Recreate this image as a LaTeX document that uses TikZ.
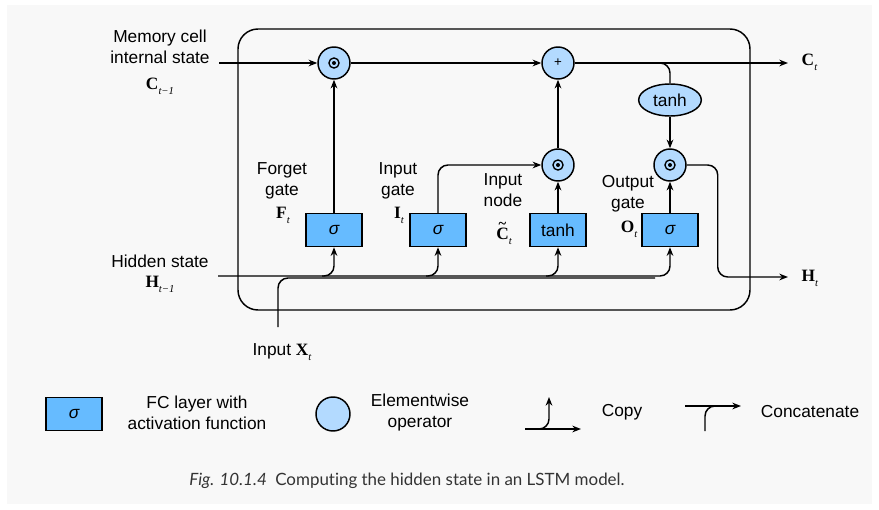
\documentclass[tikz,border=0pt]{standalone}
\usepackage{fontspec}
\setmainfont{Liberation Sans}
\newfontfamily\lsr{Liberation Serif}
\newfontfamily\capfont[Ligatures=NoCommon]{Lato}
\usetikzlibrary{arrows.meta,shapes.geometric,calc}
\definecolor{boxblue}{HTML}{66BBFF}
\definecolor{circblue}{HTML}{B3DAFF}
\definecolor{panel}{HTML}{F8F8F8}
\newcommand\vlab[2]{{\lsr\bfseries #1}\raisebox{-0.55ex}{\lsr\itshape\fontsize{8}{8}\selectfont #2}}
\newcommand\tildeC{\ooalign{C\cr\hidewidth\raisebox{0.62em}{\fontsize{11}{11}\selectfont\textasciitilde}\hidewidth\cr}}
\begin{document}
\begin{tikzpicture}[x=0.75pt,y=-0.75pt,
  line width=1.1pt, >={Stealth[length=6.5pt,width=5pt]},
  fcbox/.style={draw, fill=boxblue, minimum width=42pt, minimum height=24.75pt, inner sep=0pt, font=\fontsize{13}{13}\selectfont},
  opcirc/.style={draw, circle, fill=circblue, minimum size=24pt, inner sep=0pt},
  dotop/.style={opcirc, path picture={\draw[black, line width=1pt] (path picture bounding box.center) circle (3.8pt); \fill[black] (path picture bounding box.center) circle (1.5pt);}},
  lab/.style={font=\fontsize{13}{15.75}\selectfont, align=center, inner sep=0pt},
  vec/.style={font=\fontsize{13}{13}\selectfont, inner sep=0pt},
  conn/.style={rounded corners=7.5pt}
]
\useasboundingbox (0,0) rectangle (879,510);
\fill[white] (0,0) rectangle (879,510);
\fill[panel] (7,5) rectangle (872,504);

% cell frame
\draw[rounded corners=15pt] (238,29) rectangle (750,310);

% operators
\node[dotop] (mf) at (334,63) {};
\node[opcirc, font=\fontsize{10}{10}\selectfont] (add) at (558,63) {+};
\node[dotop] (mi) at (558,165) {};
\node[dotop] (mo) at (670,165) {};
\node[draw, ellipse, fill=circblue, minimum width=47pt, minimum height=24pt, inner sep=0pt, font=\fontsize{13}{13}\selectfont] (th) at (670,100) {tanh};

% FC layers
\node[fcbox] (fg) at (334,230) {\itshape σ};
\node[fcbox] (ig) at (438,230) {\itshape σ};
\node[fcbox] (cn) at (558,230) {tanh};
\node[fcbox] (og) at (670,230) {\itshape σ};

% coordinates
\coordinate (cin) at (219,63);
\coordinate (cout) at (788,63);
\coordinate (hin) at (218,276);
\coordinate (xin) at (278,327);
\coordinate (xend) at (655,278);
\coordinate (hout) at (788,277);
\coordinate (bf) at (322,276);
\coordinate (bi) at (426,276);
\coordinate (bc) at (546,276);

% connectors
\draw[->] (cin) -- (mf);
\draw[->] (mf) -- (add);
\draw[->] (add) -- (cout);
\draw[conn] (add.east) -| (th.north);
\draw[->] (th) -- (mo);
\draw[->] (fg) -- (mf);
\draw[->, conn] (ig.north) |- (mi.west);
\draw[->] (cn) -- (mi);
\draw[->] (mi) -- (add);
\draw[->] (og) -- (mo);
\draw[->, conn] (mo.east) -- ++(31,0) |- (hout);
\draw[->, conn] (hin) -| (og.south);
\draw[conn] (xin) |- (xend);
\draw[->, conn] (bf) -| (fg.south);
\draw[->, conn] (bi) -| (ig.south);
\draw[->, conn] (bc) -| (cn.south);

% labels
\node[lab] (lmem) at (160,47) {Memory cell\\internal state};
\node[vec] (lc0) at (160,86) {\vlab{C}{t−1}};
\node[lab] (lhid) at (160,261) {Hidden state};
\node[vec] (lh0) at (160,284) {\vlab{H}{t−1}};
\node[lab] (lfg) at (282,180.5) {Forget\\gate};
\node[vec] (lf) at (283,215) {\vlab{F}{t}};
\node[lab] (lig) at (398,180.5) {Input\\gate};
\node[vec] (li) at (399,215) {\vlab{I}{t}};
\node[lab] (lin) at (503,190.5) {Input\\node};
\node[vec, anchor=base] (lct) at (504,239) {\vlab{\tildeC}{t}};
\node[lab] (log) at (628,193.5) {Output\\gate};
\node[vec] (lo) at (629,229) {\vlab{O}{t}};
\node[lab] (lx) at (282,352) {Input \vlab{X}{t}};
\node[vec, anchor=west] (lct1) at (801,62) {\vlab{C}{t}};
\node[vec, anchor=west] (lht1) at (801,278) {\vlab{H}{t}};

% legend
\node[fcbox] (lbox) at (74,414) {\itshape σ};
\node[lab] (lboxt) at (197,413) {FC layer with\\activation function};
\node[opcirc, minimum size=25.5pt] (lcirc) at (333,414) {};
\node[lab] (lcirct) at (420,413) {Elementwise\\operator};
\coordinate (ca) at (525,429);
\coordinate (cb) at (581,429);
\coordinate (cc) at (539,429);
\coordinate (cd) at (549,397);
\draw[->] (ca) -- (cb);
\draw[->, conn] (cc) -| (cd);
\node[lab] (lcopy) at (622,412) {Copy};
\coordinate (ka) at (685,406);
\coordinate (kb) at (741,406);
\coordinate (kc) at (705,431);
\coordinate (kd) at (717,406);
\draw[->] (ka) -- (kb);
\draw[conn] (kc) |- (kd);
\node[lab] (lcat) at (810,412) {Concatenate};

% caption
\node[font=\capfont\fontsize{12.7}{12.7}\selectfont, text=black!80, inner sep=0pt] (cap) at (407,481) {\textit{Fig. 10.1.4}\enspace Computing the hidden state in an LSTM model.};
\end{tikzpicture}
\end{document}
